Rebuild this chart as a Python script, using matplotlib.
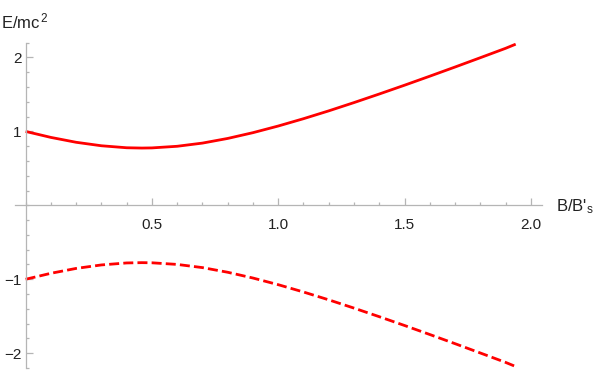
import matplotlib
matplotlib.use("Agg")
import matplotlib.pyplot as plt
from matplotlib.ticker import MultipleLocator, FixedLocator

plt.rcParams['font.family'] = ['Liberation Sans', 'DejaVu Sans']
plt.rcParams['mathtext.fontset'] = 'custom'
plt.rcParams['mathtext.rm'] = 'Liberation Sans'
plt.rcParams['mathtext.it'] = 'Liberation Sans'

# values
b = [0.0, 0.1, 0.2, 0.3, 0.4, 0.46, 0.5, 0.6, 0.7, 0.8, 0.9, 1.0,
     1.1, 1.2, 1.3, 1.4, 1.5, 1.6, 1.7, 1.8, 1.9, 1.94]
e_plus = [1.00, 0.919, 0.853, 0.806, 0.779, 0.775, 0.777, 0.799, 0.842, 0.905, 0.983, 1.073,
          1.172, 1.278, 1.390, 1.506, 1.625, 1.747, 1.871, 1.997, 2.124, 2.18]
e_minus = [-1.00, -0.919, -0.853, -0.806, -0.779, -0.775, -0.777, -0.799, -0.842, -0.905, -0.983, -1.073,
           -1.172, -1.278, -1.390, -1.506, -1.625, -1.747, -1.871, -1.997, -2.124, -2.18]

W, H = 598, 371
fig = plt.figure(figsize=(W / 100, H / 100), dpi=100)
ax = fig.add_axes([15 / W, 3 / H, (541.7 - 15) / W, (368 - 42.7) / H])

ax.plot(b, e_plus, color='#ff0000', lw=2.0, solid_capstyle='butt')
ax.plot(b, e_minus, color='#ff0000', lw=2.0, dashes=(3.6, 1.5))

ax.set_xlim(-0.042, 2.043)
ax.set_ylim(-2.2, 2.2)

gray = '#b5b5b5'
for s in ['top', 'right']:
    ax.spines[s].set_visible(False)
ax.spines['left'].set_position('zero')
ax.spines['bottom'].set_position('zero')
for s in ['left', 'bottom']:
    ax.spines[s].set_color(gray)
    ax.spines[s].set_linewidth(0.9)

ax.xaxis.set_major_locator(FixedLocator([0.5, 1.0, 1.5, 2.0]))
ax.xaxis.set_minor_locator(MultipleLocator(0.1))
ax.yaxis.set_major_locator(FixedLocator([-2, -1, 1, 2]))
ax.yaxis.set_minor_locator(MultipleLocator(0.2))
ax.set_xticklabels(['0.5', '1.0', '1.5', '2.0'])
ax.set_yticklabels(['\u22122', '\u22121', '1', '2'])

ax.tick_params(which='both', direction='in', color=gray, width=0.9, labelsize=11,
               labelcolor='#222222')
ax.tick_params(which='major', length=5)
ax.tick_params(which='minor', length=2.5)
ax.tick_params(axis='x', which='major', pad=9)
ax.tick_params(axis='y', which='major', pad=3)

fig.text(1 / W, 1 - 28 / H, 'E/mc$^{\\,2}$', fontsize=12, color='#222222', va='baseline')
fig.text(556 / W, 1 - 211.5 / H, "B/B'$_{s}$", fontsize=12, color='#222222', va='baseline')

fig.savefig('out.png', dpi=100)
